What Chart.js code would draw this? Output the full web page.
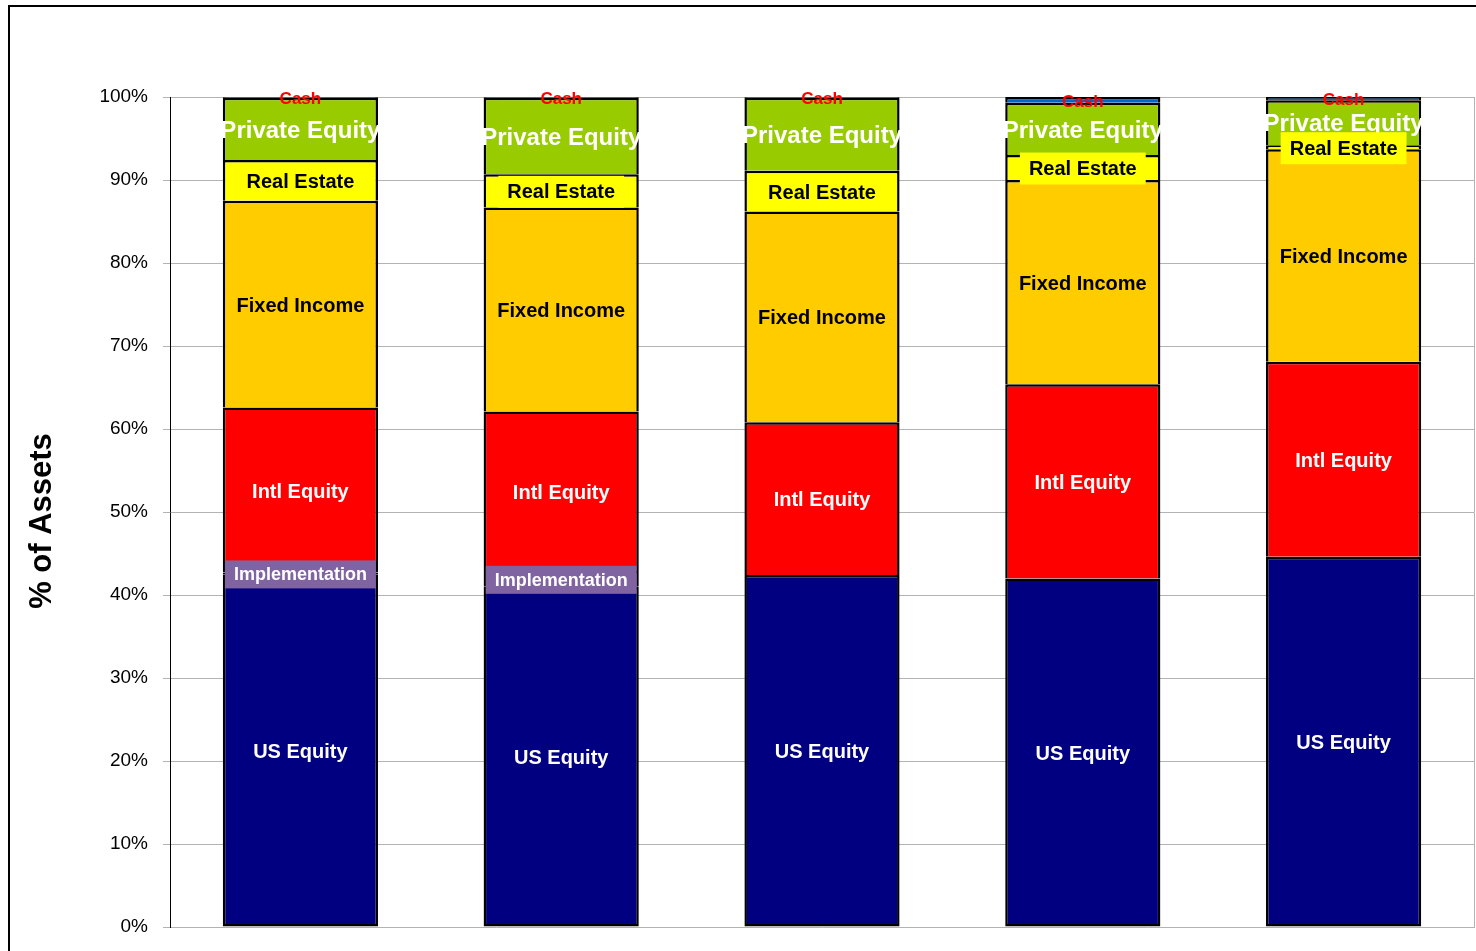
<!DOCTYPE html>
<html>
<head>
<meta charset="utf-8">
<title>Asset Allocation</title>
<script src="https://cdn.jsdelivr.net/npm/chart.js@4.4.1/dist/chart.umd.min.js"></script>
<style>
  html, body { margin: 0; padding: 0; background: #ffffff; overflow: hidden; }
  #frame {
    position: absolute; left: 8px; top: 5px; width: 1500px; height: 1000px;
    border-left: 2px solid #000; border-top: 2px solid #000;
  }
  #chart { position: absolute; left: 0; top: 0; }
</style>
</head>
<body>
<div id="frame"></div>
<canvas id="chart" width="1476" height="951"></canvas>
<script>
// Portfolio allocation by asset class, percent of total assets
const portfolios = ['Portfolio 1', 'Portfolio 2', 'Portfolio 3', 'Portfolio 4', 'Portfolio 5'];
const usEquity       = [42.5, 41.0, 42.4, 42.0, 44.6];
const implementation = [0.2, 1.9, 0, 0, 0];
const intlEquity     = [19.9, 19.2, 18.4, 23.4, 23.5];
const fixedIncome    = [24.9, 24.6, 25.4, 24.6, 25.6];
const realEstate     = [4.9, 4.0, 4.9, 3.0, 0.5];
const privateEquity  = [7.5, 9.2, 8.8, 6.3, 5.4];
const cash           = [0.1, 0.1, 0.1, 0.7, 0.4];
const yTicks = [0, 10, 20, 30, 40, 50, 60, 70, 80, 90, 100];

const FONT = "'Liberation Sans', Arial, sans-serif";

// Segment label appearance per asset class
const labelStyle = {
  'US Equity':      { color: '#ffffff', size: 20 },
  'Implementation': { color: '#ffffff', size: 18, bg: '#8064A2', padX: 9, padY: 5 },
  'Intl Equity':    { color: '#ffffff', size: 20 },
  'Fixed Income':   { color: '#000000', size: 20, bg: '#FFCC00', padX: 9, padY: 6 },
  'Real Estate':    { color: '#000000', size: 20, bg: '#FFFF00', padX: 9, padY: 6 },
  'Private Equity': { color: '#ffffff', size: 24 },
  'Cash':           { color: '#FF0000', size: 17 }
};

const segmentLabels = {
  id: 'segmentLabels',
  afterDatasetsDraw(chart) {
    const ctx = chart.ctx;
    ctx.save();
    for (let i = chart.data.datasets.length - 1; i >= 0; i--) {
      const ds = chart.data.datasets[i];
      const st = labelStyle[ds.label];
      const meta = chart.getDatasetMeta(i);
      meta.data.forEach((el, j) => {
        if (!ds.data[j]) return;
        const x = el.x;
        const y = (el.y + el.base) / 2 + 1;
        ctx.font = 'bold ' + st.size + 'px ' + FONT;
        const w = ctx.measureText(ds.label).width;
        if (st.bg) {
          ctx.fillStyle = st.bg;
          const h = st.size + st.padY * 2;
          ctx.fillRect(x - w / 2 - st.padX, y - h / 2, w + st.padX * 2, h);
        }
        ctx.fillStyle = st.color;
        ctx.textAlign = 'center';
        ctx.textBaseline = 'middle';
        ctx.fillText(ds.label, x, y + 1);
      });
    }
    ctx.restore();
  }
};

// Rotated value-axis title
const axisTitle = {
  id: 'axisTitle',
  afterDraw(chart) {
    const ctx = chart.ctx;
    const area = chart.chartArea;
    ctx.save();
    ctx.translate(42, (area.top + area.bottom) / 2 + 9);
    ctx.rotate(-Math.PI / 2);
    ctx.font = 'bold 31px ' + FONT;
    ctx.fillStyle = '#000';
    ctx.textAlign = 'center';
    ctx.textBaseline = 'middle';
    ctx.fillText('% of Assets', 0, 0);
    ctx.restore();
  }
};

function series(label, data, color, skip) {
  return {
    label, data,
    backgroundColor: color,
    borderColor: '#000000',
    borderWidth: 2.5,
    borderSkipped: skip,
    categoryPercentage: 1.0,
    barPercentage: 0.595
  };
}

new Chart(document.getElementById('chart'), {
  type: 'bar',
  data: {
    labels: portfolios,
    datasets: [
      series('US Equity', usEquity, '#000080', false),
      series('Implementation', implementation, '#993366', 'start'),
      series('Intl Equity', intlEquity, '#FF0000', 'start'),
      series('Fixed Income', fixedIncome, '#FFCC00', 'start'),
      series('Real Estate', realEstate, '#FFFF00', 'start'),
      series('Private Equity', privateEquity, '#99CC00', 'start'),
      series('Cash', cash, '#0066CC', 'start')
    ]
  },
  options: {
    responsive: false,
    animation: false,
    layout: { padding: { top: 97, right: 2, bottom: 24, left: 0 } },
    plugins: { legend: { display: false }, tooltip: { enabled: false } },
    scales: {
      x: { stacked: true, display: false },
      y: {
        stacked: true,
        min: 0, max: 100,
        afterFit(scale) {
          scale.width = 170;
          scale.paddingTop = 0;
          scale.paddingBottom = 0;
        },
        afterBuildTicks(scale) { scale.ticks = yTicks.map(v => ({ value: v })); },
        ticks: {
          padding: 15,
          color: '#000',
          font: { family: FONT, size: 19 },
          callback: v => v + '%'
        },
        grid: { color: '#B3B3B3', lineWidth: 1, tickLength: 7, tickColor: '#B3B3B3' },
        border: { display: true, color: '#000000', width: 1 }
      },
      yRight: {
        position: 'right',
        min: 0, max: 100,
        afterFit(scale) {
          scale.width = 0;
          scale.paddingTop = 0;
          scale.paddingBottom = 0;
        },
        ticks: { display: false },
        grid: { display: false, drawTicks: false },
        border: { display: true, color: '#B3B3B3', width: 1 }
      }
    }
  },
  plugins: [segmentLabels, axisTitle]
});
</script>
</body>
</html>
